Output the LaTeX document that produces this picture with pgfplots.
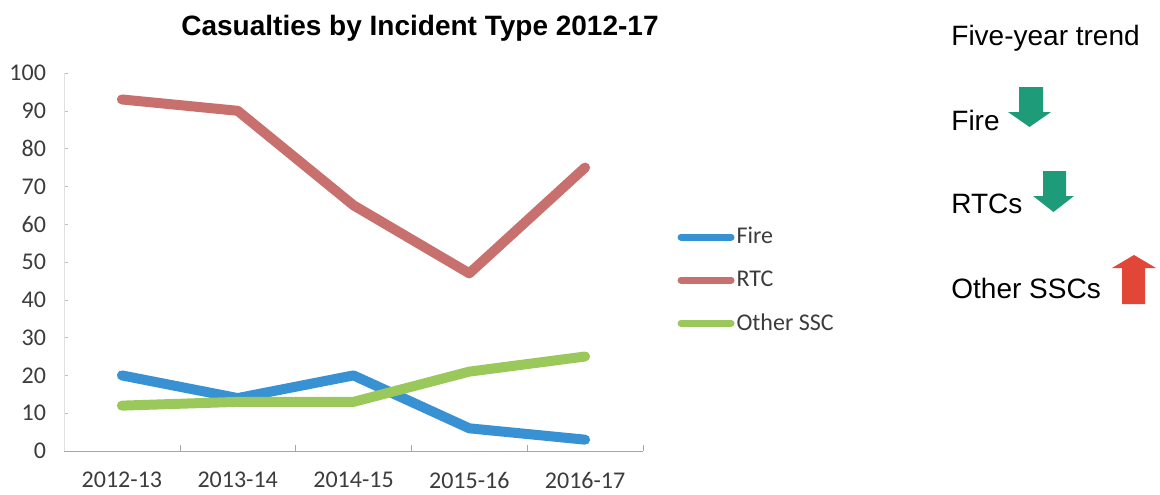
\documentclass[border=0pt]{standalone}
\usepackage{pgfplots}
\pgfplotsset{compat=1.18}
\usepackage{fontspec}
\setmainfont{Carlito}
\newfontfamily\arial{Liberation Sans}
\definecolor{fireblue}{RGB}{55,145,210}
\definecolor{rtcred}{RGB}{200,112,110}
\definecolor{sscgreen}{RGB}{155,200,90}
\definecolor{arrgreen}{RGB}{30,155,120}
\definecolor{arrred}{RGB}{225,70,55}
\definecolor{ticktext}{RGB}{60,60,60}
\begin{document}
\begin{tikzpicture}
\path[use as bounding box] (0pt,0pt) rectangle (580pt,247pt);
\begin{axis}[
  at={(32pt,21.5pt)}, anchor=south west,
  scale only axis, width=289.5pt, height=189pt,
  xmin=-0.5, xmax=4.5, ymin=0, ymax=100,
  xtick={0,1,2,3,4},
  xticklabels={2012-13,2013-14,2014-15,2015-16,2016-17},
  major x tick style={draw=none},
  minor xtick={-0.5,0.5,1.5,2.5,3.5,4.5},
  minor x tick style={draw=black!35},
  minor tick length=3pt,
  ytick={0,10,...,100},
  major tick length=2pt,
  y tick style={draw=black!25},
  axis x line*=bottom, axis y line*=left,
  x axis line style={draw=black!35, -},
  y axis line style={draw=black!12, -},
  tick label style={font=\fontsize{12}{14}\selectfont, text=ticktext},
  /pgf/number format/assume math mode=true,
  xticklabel style={yshift=-7pt},
  yticklabel style={xshift=-5.5pt},
  legend style={at={(1.059,0.452)}, anchor=west, draw=none, fill=none,
    font=\fontsize{12}{14}\selectfont, row sep=10pt, inner sep=0pt,
    cells={anchor=west}, nodes={inner sep=1pt}, text=ticktext},
  legend image code/.code={\draw[#1, line width=3.5pt, line cap=round] (0pt,0pt) -- (25pt,0pt);},
  every axis plot/.append style={line width=5pt, line join=round, line cap=round},
]
\addplot[color=fireblue] coordinates {(0,20) (1,14) (2,20) (3,6) (4,3)};
\addplot[color=rtcred] coordinates {(0,93) (1,90) (2,65) (3,47) (4,75)};
\addplot[color=sscgreen] coordinates {(0,12) (1,13) (2,13) (3,21) (4,25)};
\legend{Fire,RTC,Other SSC}
\end{axis}
\node[font=\arial\bfseries\fontsize{14}{16}\selectfont] at (210pt,233pt) {Casualties by Incident Type 2012-17};
\begin{scope}[font=\arial\fontsize{14}{16}\selectfont]
\node[anchor=base west, inner sep=0pt] at (475.5pt,224.5pt) {Five-year trend};
\node[anchor=base west, inner sep=0pt] at (475.5pt,182pt) {Fire};
\node[anchor=base west, inner sep=0pt] at (475.5pt,140.5pt) {RTCs};
\node[anchor=base west, inner sep=0pt] at (475.5pt,98pt) {Other SSCs};
\end{scope}
\fill[arrgreen] (509.5pt,203.5pt) -- (521.5pt,203.5pt) -- (521.5pt,191pt) -- (525.5pt,191pt) -- (514.75pt,183.5pt) -- (504pt,191pt) -- (509.5pt,191pt) -- cycle;
\fill[arrgreen] (521.5pt,161.5pt) -- (533pt,161.5pt) -- (533pt,149pt) -- (537pt,149pt) -- (526.75pt,141pt) -- (516.5pt,149pt) -- (521.5pt,149pt) -- cycle;
\fill[arrred] (561pt,95pt) -- (572.5pt,95pt) -- (572.5pt,113pt) -- (578pt,113pt) -- (567pt,119.5pt) -- (556pt,113pt) -- (561pt,113pt) -- cycle;
\end{tikzpicture}
\end{document}
